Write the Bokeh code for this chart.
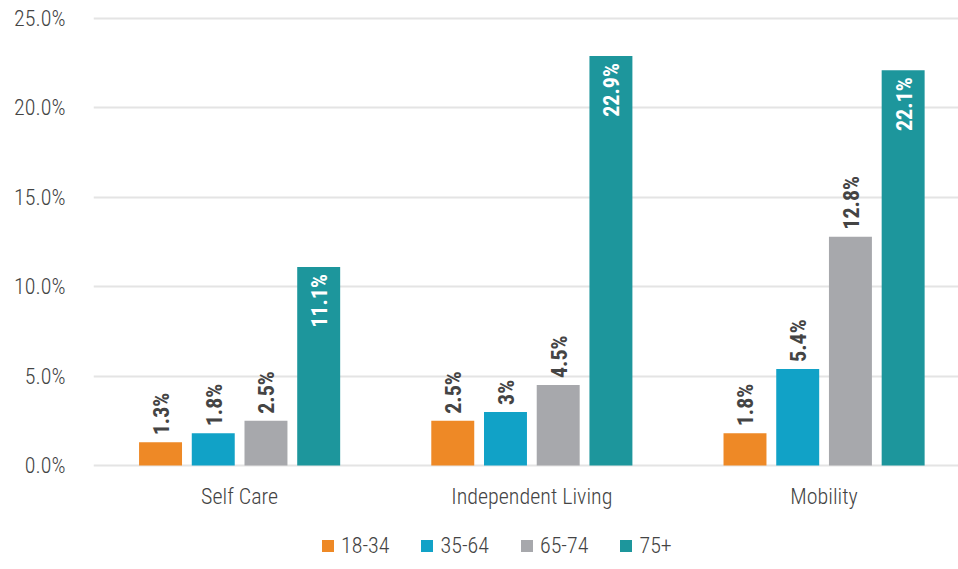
from bokeh.plotting import figure
from bokeh.layouts import column
from bokeh.models import (ColumnDataSource, Range1d, FixedTicker, Legend, LegendItem,
                          NumeralTickFormatter)
from bokeh.core.properties import value
from bokeh.embed import file_html
from bokeh.resources import INLINE

# Share of adults reporting each type of disability, by age group (%)
categories = ["Self Care", "Independent Living", "Mobility"]
age_groups = ["18-34", "35-64", "65-74", "75+"]
age_18_34 = [1.3, 2.5, 1.8]
age_35_64 = [1.8, 3.0, 5.4]
age_65_74 = [2.5, 4.5, 12.8]
age_75_plus = [11.1, 22.9, 22.1]
y_ticks = [0, 5, 10, 15, 20, 25]

series = [age_18_34, age_35_64, age_65_74, age_75_plus]
colors = ["#EE8926", "#11A2C7", "#A7A8AC", "#1D969C"]

LIGHT = "'Roboto Condensed Light', 'Roboto Condensed', 'DejaVu Sans Condensed', sans-serif"
BOLD = "'Roboto Condensed', 'DejaVu Sans Condensed', sans-serif"
TEXT = "#444444"

p = figure(
    width=958, height=511,
    x_range=Range1d(0, 2.96), y_range=Range1d(-0.5, 25.5),
    output_backend="svg", toolbar_location=None,
    min_border_left=93, min_border_right=0, min_border_top=9, min_border_bottom=36,
)
p.outline_line_color = None
p.background_fill_color = "white"
p.border_fill_color = "white"

# axes
p.xaxis.ticker = FixedTicker(ticks=[i + 0.5 for i in range(len(categories))])
p.xaxis.major_label_overrides = {i + 0.5: c for i, c in enumerate(categories)}
p.yaxis.ticker = FixedTicker(ticks=y_ticks)
p.yaxis.formatter = NumeralTickFormatter(format="0.0")
p.yaxis.major_label_overrides = {t: f"{t:.1f}%" for t in y_ticks}
for ax in (p.xaxis, p.yaxis):
    ax.axis_line_color = None
    ax.major_tick_line_color = None
    ax.minor_tick_line_color = None
    ax.major_tick_out = 0
    ax.major_tick_in = 0
    ax.major_label_text_font = LIGHT
    ax.major_label_text_font_size = "22px"
    ax.major_label_text_color = TEXT
p.yaxis.major_label_standoff = 28
p.xaxis.major_label_standoff = 9

p.xgrid.grid_line_color = None
p.ygrid.grid_line_color = "#E4E4E4"
p.ygrid.grid_line_width = 2

# grouped bars with value labels
pitch = 0.1804
bar_w = 0.147
for k, (name, vals, col) in enumerate(zip(age_groups, series, colors)):
    off = (k - 1.5) * pitch
    xs = [i + 0.5 + off for i in range(len(categories))]
    labels = [f"{v:g}%" for v in vals]
    src = ColumnDataSource(dict(x=xs, top=vals, label=labels))
    p.vbar(x="x", top="top", width=bar_w, bottom=0, source=src,
           fill_color=col, line_color=None)
    inside = name == "75+"
    p.text(x="x", y="top", text="label", source=src, angle=1.5708,
           text_align="right" if inside else "left", text_baseline="middle",
           y_offset=7 if inside else -7, x_offset=1,
           text_font=value(BOLD), text_font_size="22px", text_font_style="bold",
           text_color="white" if inside else TEXT)

# legend row beneath the chart (zero-height swatch renderers)
lg = figure(
    width=958, height=58, x_range=Range1d(0, 1), y_range=Range1d(0, 1),
    output_backend="svg", toolbar_location=None,
    x_axis_location=None, y_axis_location=None,
    min_border_left=93, min_border_right=0, min_border_top=14, min_border_bottom=0,
)
lg.outline_line_color = None
lg.grid.grid_line_color = None
items = []
for name, col in zip(age_groups, colors):
    r = lg.vbar(x=[0.5], top=[0], width=0.1, fill_color=col, line_color=None)
    items.append(LegendItem(label=name, renderers=[r]))
legend = Legend(items=items, orientation="horizontal", location=(227, 11),
                glyph_width=15, glyph_height=15, label_standoff=6, spacing=30,
                label_text_font=LIGHT, label_text_font_size="22px",
                label_height=22,
                label_text_color=TEXT, border_line_color=None,
                background_fill_alpha=0, padding=0, margin=0)
lg.add_layout(legend, "center")

open("out.html", "w").write(file_html(column(p, lg), INLINE))
